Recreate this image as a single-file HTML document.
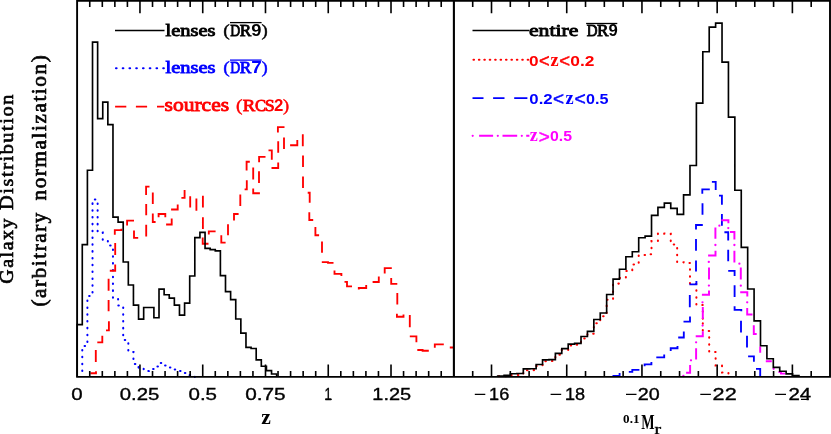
<!DOCTYPE html>
<html><head><meta charset="utf-8"><title>Galaxy Distribution</title>
<style>
html,body{margin:0;padding:0;background:#fff;}
body{width:831px;height:434px;overflow:hidden;font-family:"Liberation Sans",sans-serif;}
svg{display:block}
</style></head><body>
<svg width="831" height="434" viewBox="0 0 831 434">
<rect width="831" height="434" fill="#fff"/>
<g fill="none" stroke-linejoin="miter" stroke-linecap="butt">
<!-- left panel curves -->
<path d="M82.28,376.90 L82.28,346.00 L87.40,346.00 L87.40,296.00 L92.52,296.00 L92.52,199.40 L97.63,199.40 L97.63,232.50 L102.75,232.50 L102.75,240.70 L107.86,240.70 L107.86,245.50 L112.97,245.50 L112.97,298.00 L118.09,298.00 L118.09,305.50 L123.21,305.50 L123.21,340.00 L128.32,340.00 L128.32,352.00 L133.44,352.00 L133.44,364.00 L138.55,364.00 L138.55,368.00 L143.67,368.00 L143.67,371.00 L148.78,371.00 L148.78,369.00 L153.90,369.00 L153.90,366.50 L159.01,366.50 L159.01,363.00 L164.12,363.00 L164.12,365.50 L169.24,365.50 L169.24,367.50 L174.36,367.50 L174.36,369.50 L179.47,369.50 L179.47,371.00 L184.59,371.00 L184.59,373.00 L189.70,373.00 L189.70,375.00 L194.81,375.00 L194.81,376.90" stroke="#0000ff" stroke-width="2.05" stroke-dasharray="0.5 6.32" stroke-dashoffset="-5.92" stroke-linecap="round"/>
<path d="M90.4,373.2 H96 V371.3 M95.8,350 V361.9 M97.3,342.3 H102.3 V335.8 M106,330.3 H108.9 V321.3 M108.6,300 V311.3 M108.6,278.8 V290.7 M109.8,270.7 H115.2 V264.4 M115.2,243.1 V255 M114.8,234.8 V230.1 H121.4 V228.8 M127.1,225.6 V220.6 H134 M134,230.6 V237.8 H138.2 M146.2,224.8 V236.4 M146.2,204 V215.2 M146.1,194.9 V186.6 H149.5 M152.8,192.4 V204 M152.8,213.5 V222 H155.6 M158.6,217.3 V214 H165.3 V217.3 M166.1,224.5 H171.7 V218.5 M171.1,209.5 H177.7 V204.4 M181.4,197.9 H184.6 V190.8 H185.5 M190.2,196.2 V207.4 M196.4,198.6 V210.7 M202.9,195.7 V207.4 M202.9,217.3 V229 M202.7,237.4 V243.7 H208.5 M208.8,234.6 V231.3 H215.6 M221.3,235.3 V242.6 H225.6 M228,224.2 V235.3 M234,220.6 V214 H238.6 M240.3,194.5 V206.1 M244.6,189.4 H246.8 V180.2 M246.6,170.4 V161.7 H249.8 M253.2,167.4 V179.6 M253.2,188.5 V193.2 H259.9 M259,171.3 V182.9 M259.1,162.2 V156.8 H265.5 M268.5,150.3 H271.8 V159.8 M271.5,168 H278.2 V162.4 M278.2,141.2 V152.8 M277.9,132.4 V127.1 H284.5 M284,137.4 V149 M290.1,145.2 H297.3 V139.9 M301.9,135.2 H302.8 V146.2 M303,155.4 V167.1 M303,176.6 V187.9 M307.7,192.7 H309.7 V202.7 M309.3,212.3 V220 H313.2 M315.4,226.9 V235.2 H319.1 M322,241.4 V252.7 M321.8,262.1 H328 V262.8 H333.5 M334.5,270.6 V273.8 H341.4 V276 M344.5,281.9 H347 V286.3 H352 M358.8,289.4 V288 H366.2 V285 M372.6,282 H378.8 V276.4 M384.7,273.4 V268.1 H391.8 M391.2,278 V283.9 H397.3 M397.3,292.9 V304.4 M396.9,313.8 V316.7 H403.5 V314.4 M409.8,315 V327.3 M409.8,336.3 H416.4 V342.2 M417.3,350 H422.6 V350.7 H428.8 M434.8,347.8 V344.4 H443.8 M449.8,347.5 H453.8" stroke="#ff0000" stroke-width="1.85"/>
<path d="M77.17,376.90 L77.17,324.60 L82.28,324.60 L82.28,244.60 L87.40,244.60 L87.40,170.20 L92.52,170.20 L92.52,42.10 L97.63,42.10 L97.63,118.60 L102.75,118.60 L102.75,102.10 L107.86,102.10 L107.86,124.60 L112.97,124.60 L112.97,217.10 L118.09,217.10 L118.09,222.10 L123.21,222.10 L123.21,262.00 L128.32,262.00 L128.32,285.00 L133.44,285.00 L133.44,305.10 L138.55,305.10 L138.55,319.10 L143.67,319.10 L143.67,307.50 L148.78,307.50 L148.78,307.50 L153.90,307.50 L153.90,317.70 L159.01,317.70 L159.01,289.10 L164.12,289.10 L164.12,294.70 L169.24,294.70 L169.24,298.10 L174.36,298.10 L174.36,305.10 L179.47,305.10 L179.47,315.10 L184.59,315.10 L184.59,303.10 L189.70,303.10 L189.70,276.00 L194.81,276.00 L194.81,237.60 L199.93,237.60 L199.93,232.30 L205.05,232.30 L205.05,248.40 L210.16,248.40 L210.16,249.60 L215.28,249.60 L215.28,250.90 L220.39,250.90 L220.39,275.60 L225.50,275.60 L225.50,291.60 L230.62,291.60 L230.62,299.60 L235.74,299.60 L235.74,319.00 L240.85,319.00 L240.85,333.10 L245.97,333.10 L245.97,347.30 L251.08,347.30 L251.08,348.50 L256.19,348.50 L256.19,359.90 L261.31,359.90 L261.31,366.20 L266.43,366.20 L266.43,370.60 L271.54,370.60 L271.54,374.00 L276.66,374.00 L276.66,376.90" stroke="#000" stroke-width="1.65"/>
<!-- right panel curves -->
<path d="M497.68,376.90 L497.68,376.30 L504.09,376.30 L504.09,376.30 L510.50,376.30 L510.50,375.10 L516.91,375.10 L516.91,374.90 L523.32,374.90 L523.32,370.30 L529.73,370.30 L529.73,370.10 L536.14,370.10 L536.14,365.90 L542.55,365.90 L542.55,361.30 L548.96,361.30 L548.96,361.00 L555.37,361.00 L555.37,354.80 L561.78,354.80 L561.78,350.00 L568.19,350.00 L568.19,345.50 L574.60,345.50 L574.60,344.70 L581.01,344.70 L581.01,338.50 L587.42,338.50 L587.42,333.80 L593.83,333.80 L593.83,323.20 L600.24,323.20 L600.24,316.30 L606.65,316.30 L606.65,299.70 L613.06,299.70 L613.06,283.60 L619.47,283.60 L619.47,278.00 L625.88,278.00 L625.88,271.00 L632.29,271.00 L632.29,264.50 L638.70,264.50 L638.70,255.00 L645.11,255.00 L645.11,254.20 L651.52,254.20 L651.52,241.00 L657.93,241.00 L657.93,233.50 L664.34,233.50 L664.34,233.80 L670.75,233.80 L670.75,244.50 L677.16,244.50 L677.16,262.20 L683.57,262.20 L683.57,263.00 L689.98,263.00 L689.98,284.00 L696.39,284.00 L696.39,305.00 L702.80,305.00 L702.80,320.00" stroke="#ff0000" stroke-width="2.05" stroke-dasharray="0.5 6.35" stroke-dashoffset="-1.63" stroke-linecap="round"/>
<path d="M702.80,320.00 L702.80,331.00 L709.21,331.00 L709.21,352.00 L715.62,352.00 L715.62,365.50 L722.03,365.50 L722.03,372.50 L728.44,372.50 L728.44,376.90" stroke="#ff0000" stroke-width="2.05" stroke-dasharray="0.5 6.35" stroke-dashoffset="-3.21" stroke-linecap="round"/>
<path d="M612.5,376 H619.6 V373 M628.8,371.8 H632.3 V369.9 H639.4 M644.6,366.3 V364.4 H651.4 V362 M656.3,357.3 H664.2 V354.4 M670.7,351 V348.2 H677.5 V346 M678.2,337.5 H683.8 V331.5 M683.5,321.6 H690 V316.6 M689.8,295 V307.3 M689.4,284.4 H696.4 V281 M696,260.4 V271.6 M696,239 V250.7 M696,229.4 V225 H702.8 M702.5,203.2 V214.8 M702.3,193.8 V189.4 H709.8 M711.9,181.9 H715.7 V190 M719,195.6 H721.9 V204.8 M721.9,214 V225.7 M724.4,232.2 H728.2 V240.6 M728.2,249.8 V261.3 M728.2,270.8 H734.6 V276 M734.6,285.3 V296.9 M734.6,306.3 V309.8 H741.3 V311.3 M741,320.8 V332.4 M747,335.8 V347.6 M748.1,356.3 H753.9 V361.8 M756,368.9 H760.2 V376" stroke="#0000ff" stroke-width="1.85"/>
<path d="M686.1,372.8 H690.1 V365.1 M696.1,348.2 V359.4 M695.7,336.3 H702.8 V331.3 M702.8,307 V318.9 M701.9,294.8 H709 V290.6 M709,267.6 V279.5 M708.1,255.4 H715.5 V250.7 M715.4,227.4 V238.8 M721.3,220.3 H728.4 V223.2 M730,231.9 H734.4 V239.4 M734.4,250.7 V262.5 M740.8,267.6 V279.6 M740.2,292.2 H747.3 V296.4 M747.2,308 V314.5 H752.5 M753.8,325.3 V333.9 H756.7 M760.2,346.5 V352.8 M765.8,361.3 H771.8 M778.5,372 H781 V373.6 H785.2" stroke="#ff00ff" stroke-width="1.95"/>
<g fill="#ff00ff" stroke="none"><circle cx="683.4" cy="376.0" r="1.15"/><circle cx="691.0" cy="360.3" r="1.15"/><circle cx="696.1" cy="342.3" r="1.15"/><circle cx="702.6" cy="325.6" r="1.15"/><circle cx="702.5" cy="302.3" r="1.15"/><circle cx="708.9" cy="285.6" r="1.15"/><circle cx="708.8" cy="261.9" r="1.15"/><circle cx="715.4" cy="245.0" r="1.15"/><circle cx="719.4" cy="225.7" r="1.15"/><circle cx="728.3" cy="228.1" r="1.15"/><circle cx="734.4" cy="245.0" r="1.15"/><circle cx="739.4" cy="263.7" r="1.15"/><circle cx="740.8" cy="285.7" r="1.15"/><circle cx="747.2" cy="302.3" r="1.15"/><circle cx="773.6" cy="368.8" r="1.15"/></g>
<path d="M497.68,376.90 L497.68,376.00 L504.09,376.00 L504.09,375.40 L510.50,375.40 L510.50,373.70 L516.91,373.70 L516.91,373.50 L523.32,373.50 L523.32,368.90 L529.73,368.90 L529.73,368.70 L536.14,368.70 L536.14,364.50 L542.55,364.50 L542.55,359.90 L548.96,359.90 L548.96,359.60 L555.37,359.60 L555.37,353.40 L561.78,353.40 L561.78,348.60 L568.19,348.60 L568.19,344.10 L574.60,344.10 L574.60,343.30 L581.01,343.30 L581.01,336.50 L587.42,336.50 L587.42,331.30 L593.83,331.30 L593.83,319.50 L600.24,319.50 L600.24,313.00 L606.65,313.00 L606.65,294.50 L613.06,294.50 L613.06,279.10 L619.47,279.10 L619.47,269.20 L625.88,269.20 L625.88,256.70 L632.29,256.70 L632.29,251.70 L638.70,251.70 L638.70,237.70 L645.11,237.70 L645.11,236.10 L651.52,236.10 L651.52,215.40 L657.93,215.40 L657.93,207.30 L664.34,207.30 L664.34,203.10 L670.75,203.10 L670.75,208.30 L677.16,208.30 L677.16,214.30 L683.57,214.30 L683.57,194.80 L689.98,194.80 L689.98,165.50 L696.39,165.50 L696.39,103.10 L702.80,103.10 L702.80,51.70 L709.21,51.70 L709.21,27.10 L715.62,27.10 L715.62,23.10 L722.03,23.10 L722.03,62.10 L728.44,62.10 L728.44,117.10 L734.85,117.10 L734.85,190.20 L741.26,190.20 L741.26,247.30 L747.67,247.30 L747.67,289.00 L754.08,289.00 L754.08,320.80 L760.49,320.80 L760.49,345.70 L766.90,345.70 L766.90,358.70 L773.31,358.70 L773.31,367.40 L779.72,367.40 L779.72,371.20 L786.13,371.20 L786.13,373.80 L792.54,373.80 L792.54,375.60 L798.95,375.60 L798.95,376.90" stroke="#000" stroke-width="1.65"/>
<!-- legend lines -->
<path d="M115,30.5 H164.5" stroke="#000" stroke-width="1.4"/>
<path d="M116,68.2 H164" stroke="#0000ff" stroke-width="2.1" stroke-dasharray="0.6 6.15" stroke-linecap="round"/>
<path d="M115.1,106.6 H126.3 M135.9,106.6 H147.1 M157,106.6 H164.3" stroke="#ff0000" stroke-width="1.85"/>
<path d="M472.5,30.5 H529.3" stroke="#000" stroke-width="1.4"/>
<path d="M473.5,59.8 H528.5" stroke="#ff0000" stroke-width="2.1" stroke-dasharray="0.5 4.92" stroke-linecap="round"/>
<path d="M472.5,98.1 H483.5 M493.1,98.1 H504.5 M514.2,98.1 H527.4" stroke="#0000ff" stroke-width="1.85"/>
<path d="M479.1,135.8 H493.1 M502.5,135.8 H517.2 M526.2,135.8 H529.4" stroke="#ff00ff" stroke-width="1.95"/>
<g fill="#ff00ff" stroke="none"><circle cx="472.7" cy="135.8" r="1.1"/><circle cx="497.8" cy="135.8" r="1.1"/><circle cx="521.8" cy="135.8" r="1.1"/></g>
<!-- frame and ticks -->
<path d="M89.75,0.90 v6.00 M89.75,376.90 v-6.00 M102.31,0.90 v6.00 M102.31,376.90 v-6.00 M114.86,0.90 v6.00 M114.86,376.90 v-6.00 M127.41,0.90 v6.00 M127.41,376.90 v-6.00 M139.96,0.90 v12.30 M139.96,376.90 v-12.30 M152.52,0.90 v6.00 M152.52,376.90 v-6.00 M165.07,0.90 v6.00 M165.07,376.90 v-6.00 M177.62,0.90 v6.00 M177.62,376.90 v-6.00 M190.17,0.90 v6.00 M190.17,376.90 v-6.00 M202.73,0.90 v12.30 M202.73,376.90 v-12.30 M215.28,0.90 v6.00 M215.28,376.90 v-6.00 M227.83,0.90 v6.00 M227.83,376.90 v-6.00 M240.38,0.90 v6.00 M240.38,376.90 v-6.00 M252.94,0.90 v6.00 M252.94,376.90 v-6.00 M265.49,0.90 v12.30 M265.49,376.90 v-12.30 M278.04,0.90 v6.00 M278.04,376.90 v-6.00 M290.59,0.90 v6.00 M290.59,376.90 v-6.00 M303.15,0.90 v6.00 M303.15,376.90 v-6.00 M315.70,0.90 v6.00 M315.70,376.90 v-6.00 M328.25,0.90 v12.30 M328.25,376.90 v-12.30 M340.80,0.90 v6.00 M340.80,376.90 v-6.00 M353.36,0.90 v6.00 M353.36,376.90 v-6.00 M365.91,0.90 v6.00 M365.91,376.90 v-6.00 M378.46,0.90 v6.00 M378.46,376.90 v-6.00 M391.01,0.90 v12.30 M391.01,376.90 v-12.30 M403.56,0.90 v6.00 M403.56,376.90 v-6.00 M416.12,0.90 v6.00 M416.12,376.90 v-6.00 M428.67,0.90 v6.00 M428.67,376.90 v-6.00 M441.22,0.90 v6.00 M441.22,376.90 v-6.00 M472.70,0.90 v6.00 M472.70,376.90 v-6.00 M491.51,0.90 v12.30 M491.51,376.90 v-12.30 M510.31,0.90 v6.00 M510.31,376.90 v-6.00 M529.12,0.90 v6.00 M529.12,376.90 v-6.00 M547.92,0.90 v6.00 M547.92,376.90 v-6.00 M566.73,0.90 v12.30 M566.73,376.90 v-12.30 M585.53,0.90 v6.00 M585.53,376.90 v-6.00 M604.34,0.90 v6.00 M604.34,376.90 v-6.00 M623.14,0.90 v6.00 M623.14,376.90 v-6.00 M641.95,0.90 v12.30 M641.95,376.90 v-12.30 M660.75,0.90 v6.00 M660.75,376.90 v-6.00 M679.56,0.90 v6.00 M679.56,376.90 v-6.00 M698.37,0.90 v6.00 M698.37,376.90 v-6.00 M717.17,0.90 v12.30 M717.17,376.90 v-12.30 M735.97,0.90 v6.00 M735.97,376.90 v-6.00 M754.78,0.90 v6.00 M754.78,376.90 v-6.00 M773.59,0.90 v6.00 M773.59,376.90 v-6.00 M792.39,0.90 v12.30 M792.39,376.90 v-12.30 M811.19,0.90 v6.00 M811.19,376.90 v-6.00" stroke="#000" stroke-width="1.6"/>
<path d="M77.1,0.9 H830.0 V376.9 H77.1 Z" stroke="#000" stroke-width="1.9"/>
<path d="M453.9,0.9 V376.9" stroke="#000" stroke-width="2.1"/>
</g>
<g opacity="0.999" style="will-change:transform">
<text transform="translate(71.30,399.90) scale(1.2131,1)" font-family="Liberation Sans" font-size="16.90" font-weight="normal" fill="#000" stroke="#000" stroke-width="0.35">0</text>
<text transform="translate(119.80,399.90) scale(1.2055,1)" font-family="Liberation Sans" font-size="16.90" font-weight="normal" fill="#000" stroke="#000" stroke-width="0.35">0.25</text>
<text transform="translate(188.50,399.90) scale(1.2159,1)" font-family="Liberation Sans" font-size="16.90" font-weight="normal" fill="#000" stroke="#000" stroke-width="0.35">0.5</text>
<text transform="translate(245.19,399.90) scale(1.2309,1)" font-family="Liberation Sans" font-size="16.90" font-weight="normal" fill="#000" stroke="#000" stroke-width="0.35">0.75</text>
<text transform="translate(324.41,399.90) scale(0.7686,1)" font-family="Liberation Sans" font-size="16.90" font-weight="normal" fill="#000" stroke="#000" stroke-width="0.35">1</text>
<text transform="translate(372.28,399.90) scale(1.1814,1)" font-family="Liberation Sans" font-size="16.90" font-weight="normal" fill="#000" stroke="#000" stroke-width="0.35">1.25</text>
<text transform="translate(489.12,399.90) scale(1.0735,1)" font-family="Liberation Sans" font-size="16.90" font-weight="normal" fill="#000" stroke="#000" stroke-width="0.35">16</text>
<text transform="translate(564.92,399.90) scale(1.0730,1)" font-family="Liberation Sans" font-size="16.90" font-weight="normal" fill="#000" stroke="#000" stroke-width="0.35">18</text>
<text transform="translate(637.71,399.90) scale(1.1685,1)" font-family="Liberation Sans" font-size="16.90" font-weight="normal" fill="#000" stroke="#000" stroke-width="0.35">20</text>
<text transform="translate(712.61,399.90) scale(1.2809,1)" font-family="Liberation Sans" font-size="16.90" font-weight="normal" fill="#000" stroke="#000" stroke-width="0.35">22</text>
<text transform="translate(788.47,399.90) scale(1.2090,1)" font-family="Liberation Sans" font-size="16.90" font-weight="normal" fill="#000" stroke="#000" stroke-width="0.35">24</text>
<path d="M474.8,394.3 H485.3 M550.6,394.3 H561.2 M626.0,394.3 H636.5 M700.3,394.3 H710.9 M775.2,394.3 H786.0" stroke="#000" stroke-width="1.35" fill="none"/>
<path d="M325.3,399.3 H331.7 M373.8,399.3 H380.6 M490.5,399.3 H497.6 M566.3,399.3 H573.4 M801.0,399.3 H808.6" stroke="#000" stroke-width="1.2" fill="none"/>
<text transform="translate(261.28,423.70) scale(1.0558,1)" font-family="Liberation Serif" font-size="20.48" font-weight="bold" fill="#000">z</text>
<text transform="translate(623.10,423.00) scale(1.0678,1)" font-family="Liberation Serif" font-size="12.27" font-weight="bold" fill="#000">0.1</text>
<text transform="translate(641.26,428.70) scale(0.6860,1)" font-family="Liberation Serif" font-size="20.62" font-weight="bold" fill="#000">M</text>
<text transform="translate(654.51,433.60) scale(1.3717,1)" font-family="Liberation Serif" font-size="14.38" font-weight="normal" fill="#000" stroke="#000" stroke-width="0.4">r</text>
<text transform="translate(13.40,283.72) rotate(-90) scale(1.0455,1)" font-family="Liberation Serif" font-size="19.03" font-weight="normal" fill="#000" stroke="#000" stroke-width="0.65" letter-spacing="1.50">Galaxy</text>
<text transform="translate(13.40,209.88) rotate(-90) scale(1.0519,1)" font-family="Liberation Serif" font-size="19.24" font-weight="normal" fill="#000" stroke="#000" stroke-width="0.65" letter-spacing="1.50">Distribution</text>
<text transform="translate(45.50,306.53) rotate(-90) scale(1.0562,1)" font-family="Liberation Serif" font-size="20.00" font-weight="normal" fill="#000" stroke="#000" stroke-width="0.65" letter-spacing="1.50">(arbitrary</text>
<text transform="translate(45.50,200.49) rotate(-90) scale(1.0589,1)" font-family="Liberation Serif" font-size="20.00" font-weight="normal" fill="#000" stroke="#000" stroke-width="0.65" letter-spacing="1.50">normalization)</text>
<text transform="translate(165.59,35.60) scale(1.2550,1)" font-family="Liberation Serif" font-size="16.29" font-weight="normal" fill="#000" stroke="#000" stroke-width="0.85">lenses</text>
<text transform="translate(223.24,35.60) scale(1.1452,1)" font-family="Liberation Serif" font-size="17.00" font-weight="normal" fill="#000" stroke="#000" stroke-width="0.45">(</text>
<text transform="translate(230.20,35.60) scale(0.8054,1)" font-family="Liberation Serif" font-size="17.10" font-weight="normal" fill="#000" stroke="#000" stroke-width="0.85">D</text>
<text transform="translate(239.70,35.60) scale(1.0100,1)" font-family="Liberation Serif" font-size="17.10" font-weight="normal" fill="#000" stroke="#000" stroke-width="0.85">R</text>
<text transform="translate(251.36,35.60) scale(1.1287,1)" font-family="Liberation Sans" font-size="16.28" font-weight="bold" fill="#000">9</text>
<text transform="translate(261.60,35.60) scale(1.0994,1)" font-family="Liberation Serif" font-size="17.00" font-weight="normal" fill="#000" stroke="#000" stroke-width="0.45">)</text>
<path d="M230.00,22.60 H261.60" stroke="#000" stroke-width="1.3" fill="none"/>
<text transform="translate(165.59,73.10) scale(1.2550,1)" font-family="Liberation Serif" font-size="16.29" font-weight="normal" fill="#0000ff" stroke="#0000ff" stroke-width="0.85">lenses</text>
<text transform="translate(223.24,73.10) scale(1.1452,1)" font-family="Liberation Serif" font-size="17.00" font-weight="normal" fill="#0000ff" stroke="#0000ff" stroke-width="0.45">(</text>
<text transform="translate(230.20,73.10) scale(0.8054,1)" font-family="Liberation Serif" font-size="17.10" font-weight="normal" fill="#0000ff" stroke="#0000ff" stroke-width="0.85">D</text>
<text transform="translate(239.70,73.10) scale(1.0100,1)" font-family="Liberation Serif" font-size="17.10" font-weight="normal" fill="#0000ff" stroke="#0000ff" stroke-width="0.85">R</text>
<text transform="translate(251.19,73.10) scale(1.1651,1)" font-family="Liberation Sans" font-size="16.28" font-weight="bold" fill="#0000ff">7</text>
<text transform="translate(261.60,73.10) scale(1.0994,1)" font-family="Liberation Serif" font-size="17.00" font-weight="normal" fill="#0000ff" stroke="#0000ff" stroke-width="0.45">)</text>
<path d="M230.00,60.10 H261.60" stroke="#0000ff" stroke-width="1.3" fill="none"/>
<text transform="translate(164.52,111.30) scale(1.1624,1)" font-family="Liberation Serif" font-size="18.52" font-weight="normal" fill="#ff0000" stroke="#ff0000" stroke-width="0.85">sources</text>
<text transform="translate(236.04,111.30) scale(1.1452,1)" font-family="Liberation Serif" font-size="17.00" font-weight="normal" fill="#ff0000" stroke="#ff0000" stroke-width="0.45">(</text>
<text transform="translate(242.66,111.30) scale(1.0926,1)" font-family="Liberation Serif" font-size="17.10" font-weight="normal" fill="#ff0000" stroke="#ff0000" stroke-width="0.85">R</text>
<text transform="translate(255.02,111.30) scale(0.9628,1)" font-family="Liberation Serif" font-size="17.10" font-weight="normal" fill="#ff0000" stroke="#ff0000" stroke-width="0.85">C</text>
<text transform="translate(264.81,111.30) scale(1.0400,1)" font-family="Liberation Serif" font-size="17.10" font-weight="normal" fill="#ff0000" stroke="#ff0000" stroke-width="0.85">S</text>
<text transform="translate(273.92,111.30) scale(1.0335,1)" font-family="Liberation Sans" font-size="16.28" font-weight="bold" fill="#ff0000">2</text>
<text transform="translate(283.01,111.30) scale(1.0764,1)" font-family="Liberation Serif" font-size="17.00" font-weight="normal" fill="#ff0000" stroke="#ff0000" stroke-width="0.45">)</text>
<text transform="translate(528.95,35.50) scale(1.2765,1)" font-family="Liberation Serif" font-size="17.00" font-weight="normal" fill="#000" stroke="#000" stroke-width="0.85">entire</text>
<text transform="translate(586.77,35.50) scale(0.9094,1)" font-family="Liberation Serif" font-size="16.49" font-weight="normal" fill="#000" stroke="#000" stroke-width="0.85">D</text>
<text transform="translate(597.10,35.50) scale(1.0474,1)" font-family="Liberation Serif" font-size="16.49" font-weight="normal" fill="#000" stroke="#000" stroke-width="0.85">R</text>
<text transform="translate(608.52,35.50) scale(1.0653,1)" font-family="Liberation Sans" font-size="15.70" font-weight="bold" fill="#000">9</text>
<path d="M586.10,23.50 H617.30" stroke="#000" stroke-width="1.3" fill="none"/>
<text transform="translate(528.92,65.60) scale(1.1576,1)" font-family="Liberation Sans" font-size="14.89" font-weight="bold" fill="#ff0000">0</text>
<text transform="translate(539.00,67.00) scale(1.0121,1)" font-family="Liberation Sans" font-size="18.10" font-weight="normal" fill="#ff0000" stroke="#ff0000" stroke-width="0.45">&lt;</text>
<text transform="translate(550.54,65.60) scale(1.0295,1)" font-family="Liberation Serif" font-size="17.87" font-weight="bold" fill="#ff0000">z</text>
<text transform="translate(559.19,67.00) scale(1.0235,1)" font-family="Liberation Sans" font-size="18.10" font-weight="normal" fill="#ff0000" stroke="#ff0000" stroke-width="0.45">&lt;</text>
<text transform="translate(570.31,65.60) scale(1.1680,1)" font-family="Liberation Sans" font-size="14.89" font-weight="bold" fill="#ff0000">0.2</text>
<text transform="translate(529.34,103.50) scale(1.1270,1)" font-family="Liberation Sans" font-size="14.89" font-weight="bold" fill="#0000ff">0.2</text>
<text transform="translate(553.07,104.90) scale(1.0462,1)" font-family="Liberation Sans" font-size="18.10" font-weight="normal" fill="#0000ff" stroke="#0000ff" stroke-width="0.45">&lt;</text>
<text transform="translate(565.44,103.50) scale(1.0295,1)" font-family="Liberation Serif" font-size="17.87" font-weight="bold" fill="#0000ff">z</text>
<text transform="translate(574.45,104.90) scale(1.0689,1)" font-family="Liberation Sans" font-size="18.10" font-weight="normal" fill="#0000ff" stroke="#0000ff" stroke-width="0.45">&lt;</text>
<text transform="translate(585.96,103.50) scale(1.0862,1)" font-family="Liberation Sans" font-size="14.89" font-weight="bold" fill="#0000ff">0.5</text>
<text transform="translate(529.65,141.30) scale(1.0156,1)" font-family="Liberation Serif" font-size="17.87" font-weight="bold" fill="#ff00ff">z</text>
<text transform="translate(538.87,142.70) scale(1.0462,1)" font-family="Liberation Sans" font-size="18.10" font-weight="normal" fill="#ff00ff" stroke="#ff00ff" stroke-width="0.45">&gt;</text>
<text transform="translate(549.97,141.30) scale(1.0659,1)" font-family="Liberation Sans" font-size="14.89" font-weight="bold" fill="#ff00ff">0.5</text>
</g>
</svg>
</body></html>
